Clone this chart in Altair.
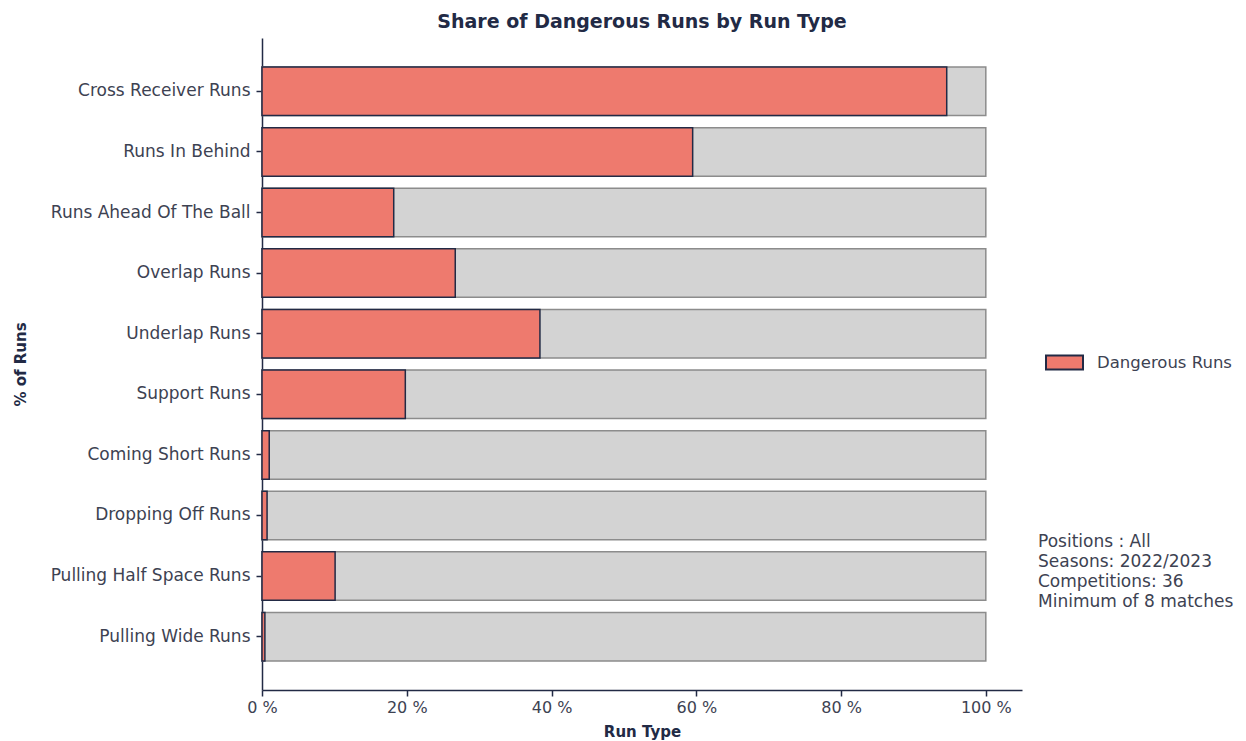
import altair as alt
import pandas as pd

categories = ["Cross Receiver Runs", "Runs In Behind", "Runs Ahead Of The Ball",
              "Overlap Runs", "Underlap Runs", "Support Runs", "Coming Short Runs",
              "Dropping Off Runs", "Pulling Half Space Runs", "Pulling Wide Runs"]
dangerous = [94.6, 59.5, 18.2, 26.7, 38.4, 19.8, 1.0, 0.7, 10.1, 0.4]
total = [100, 100, 100, 100, 100, 100, 100, 100, 100, 100]
series_name = ["Dangerous Runs"] * len(categories)
x_ticks = [0, 20, 40, 60, 80, 100]
info_lines = ["Positions : All", "Seasons: 2022/2023", "Competitions: 36",
              "Minimum of 8 matches"]

df = pd.DataFrame({"cat": categories, "dangerous": dangerous, "total": total,
                   "series": series_name})

FONT = "DejaVu Sans"
TXT = "#3d4252"
NAVY = "#222a45"

y_enc = alt.Y("cat:N", sort=categories,
              scale=alt.Scale(paddingInner=0.2, paddingOuter=0.48),
              axis=alt.Axis(title="% of Runs", titleFontWeight="bold", titleFontSize=15,
                            titleColor=NAVY, titleX=-242, titleY=326, titleAngle=270,
                            titleBaseline="middle", titleAlign="center",
                            labelFontSize=17, labelColor=TXT, labelPadding=6,
                            labelLimit=400,
                            domainColor=NAVY, domainWidth=1.5, tickColor=NAVY,
                            tickSize=6, tickWidth=1.5))

x_scale = alt.Scale(domain=[0, 105], nice=False)

bg = alt.Chart(df).mark_bar(fill="#d3d3d3", stroke="#8c8c8c", strokeWidth=1.5).encode(
    y=y_enc,
    x=alt.X("total:Q", scale=x_scale,
            axis=alt.Axis(values=x_ticks, labelExpr="datum.value + ' %'",
                          title="Run Type", titleFontWeight="bold", titleFontSize=15,
                          titleColor=NAVY, titlePadding=9, labelFlush=False,
                          labelFontSize=16, labelColor=TXT, labelPadding=3,
                          domainColor=NAVY, domainWidth=1.5, tickColor=NAVY,
                          tickSize=6, tickWidth=1.5, grid=False)),
)

fg = alt.Chart(df).mark_bar(stroke=NAVY, strokeWidth=1.5).encode(
    y=alt.Y("cat:N", sort=categories),
    x=alt.X("dangerous:Q", scale=x_scale),
    color=alt.Color("series:N",
                    scale=alt.Scale(domain=["Dangerous Runs"], range=["#ee7a6e"]),
                    legend=alt.Legend(title=None, orient="none", legendX=783, legendY=305,
                                      symbolType="M-1,-0.38L1,-0.38L1,0.38L-1,0.38Z",
                                      symbolSize=1369, symbolStrokeColor=NAVY,
                                      symbolStrokeWidth=2, symbolOpacity=1,
                                      labelFontSize=16.5, labelColor=TXT, labelOffset=13)),
)

info = alt.Chart(pd.DataFrame({"k": [0]})).mark_text(
    align="left", baseline="top", fontSize=17, lineHeight=20, color=TXT, font=FONT
).encode(
    x=alt.value(776), y=alt.value(496), text=alt.value(info_lines)
)

chart = alt.layer(bg, fg, info).properties(
    width=760, height=652,
    title=alt.TitleParams("Share of Dangerous Runs by Run Type", fontSize=19,
                          fontWeight="bold", color=NAVY, offset=6, font=FONT),
    autosize=alt.AutoSizeParams(type="none"),
    padding={"left": 254, "top": 30, "right": 216, "bottom": 52},
).configure(font=FONT).configure_view(stroke=None)

chart.save("out.html", embed_options={"renderer": "svg", "actions": False})
